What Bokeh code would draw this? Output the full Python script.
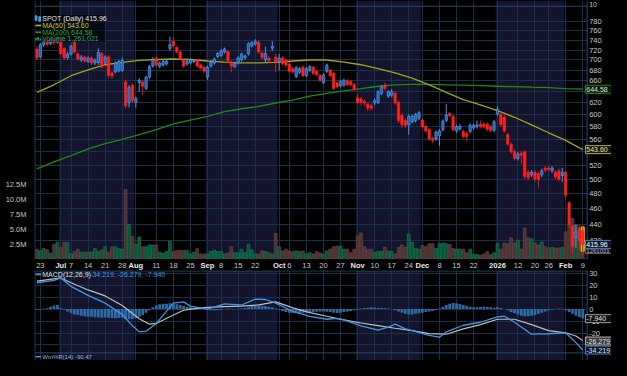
import math
from bokeh.plotting import figure
from bokeh.layouts import column
from bokeh.models import (Range1d, LinearAxis, LinearScale, FixedTicker, PrintfTickFormatter,
                          Label, Grid, ColumnDataSource, BoxAnnotation)
from bokeh.core.properties import value
from bokeh.embed import file_html
from bokeh.resources import INLINE
try:
    from bokeh.models import GlobalInlineStyleSheet
except Exception:
    GlobalInlineStyleSheet = None

# ---------------- data (trading-day index 0 = 2025-06-20 ... 160 = 2026-02-09) -------------
opens = [722,706,731,740,733,742,736,742,723,705, 712,736,712,700,706,697,704,694,695,713,
         694,706,675,677,679,680,658,620,652,621, 657,658,646,667,688,704,688,690,692,723,
         738,725,716,700,692,694,697,699,690,686, 667,688,694,707,709,716,717,696,687,694,
         700,704,712,728,732,736,714,700,704,724, 706,696,704,700,692,683,668,676,686,670,
         680,686,678,670,657,678,680,674,656,651, 652,660,659,653,629,627,623,618,615,620,
         621,637,652,632,634,637,621,599,590,583, 588,590,594,591,580,575,561,560,565,575,
         590,602,597,573,576,572,569,572,578,580, 584,584,584,580,574,601,600,596,567,552,
         541,530,538,540,510,506,510,508,506,516, 516,512,510,512,505,510,468,438,424,436,
         432]
highs = [728,734,742,744,746,745,748,745,726,716, 731,740,716,710,709,707,707,703,723,716,
         709,710,678,697,700,705,662,652,655,631, 665,662,670,690,706,707,697,700,701,748,
         748,729,719,703,700,703,702,702,693,689, 689,699,705,716,721,725,720,699,696,707,
         715,711,736,738,742,739,717,727,707,738, 712,712,707,703,695,686,688,686,689,686,
         690,689,681,673,674,693,683,677,659,662, 664,663,662,656,636,631,627,621,619,628,
         643,652,657,643,645,641,624,602,593,600, 600,603,606,594,583,578,564,574,576,592,
         618,605,600,583,584,575,572,585,585,590, 590,587,587,583,591,614,603,599,570,555,
         544,540,541,543,513,513,513,511,515,519, 519,519,513,515,516,512,470,440,440,440,
         437]
lows = [700,703,726,728,730,730,733,710,700,701, 709,713,698,696,694,694,690,690,690,684,
        690,666,664,674,676,677,610,612,620,612, 640,634,643,664,685,686,684,687,689,718,
        725,713,701,685,689,691,694,685,681,675, 662,685,691,704,706,713,695,676,684,691,
        697,701,709,725,729,713,702,694,695,718, 677,680,690,687,675,674,665,673,667,667,
        677,671,669,658,654,675,667,643,646,648, 649,650,650,641,618,616,615,606,607,616,
        618,634,643,629,630,617,586,578,578,567, 585,587,591,577,570,557,554,557,549,572,
        587,595,572,570,573,561,556,569,575,577, 577,577,573,571,571,598,580,570,549,537,
        527,527,522,500,499,503,497,488,503,510, 511,509,500,497,496,474,436,405,412,410,
        404]
closes = [704,731,738,732,742,735,744,713,704,712, 728,716,702,706,698,704,694,700,715,686,
          706,670,669,694,697,699,615,648,624,628, 661,650,667,687,700,690,694,697,698,731,
          728,716,704,688,697,700,699,688,684,678, 686,696,702,713,718,722,698,688,693,704,
          712,708,733,735,738,716,705,713,698,727, 696,704,693,690,678,677,685,683,670,683,
          687,674,672,661,671,690,670,646,649,659, 661,653,653,644,621,621,620,611,611,624,
          640,649,646,640,640,620,590,583,582,597, 597,600,603,580,573,560,558,571,573,589,
          599,598,575,580,580,564,564,582,582,583, 580,580,576,574,588,609,583,573,552,540,
          530,537,535,504,502,510,500,500,512,513, 514,516,503,500,510,478,440,414,431,420,
          415.96]
volume_m = [1.7,1.4,1.8,1.6,1.0,2.5,2.8,2.0,2.8,2.8, 0.9,1.3,1.7,1.2,1.2,1.2,1.2,1.8,1.3,1.6,
            2.1,1.2,2.1,2.1,1.8,1.7,11.6,5.8,3.8,2.5, 3.7,2.1,2.1,2.4,2.4,2.4,1.2,1.0,1.3,3.0,
            1.3,1.5,1.5,1.5,1.5,0.9,1.2,1.8,0.9,0.9, 0.9,1.3,1.5,1.3,1.3,0.9,1.1,2.1,1.1,1.1,
            1.7,1.1,2.5,1.6,0.9,0.9,1.4,1.3,1.1,0.9, 4.3,2.1,1.4,1.7,1.4,1.3,1.4,1.3,1.4,0.9,
            1.1,0.9,1.3,1.1,0.9,1.4,1.7,2.1,2.2,2.2, 1.7,1.7,1.1,1.7,3.9,4.4,2.1,1.7,1.7,1.1,
            1.3,1.3,2.0,1.4,1.3,0.9,2.0,2.4,2.0,4.2, 2.8,1.8,1.7,2.3,2.1,2.6,2.6,1.8,2.6,2.7,
            2.6,2.5,1.8,1.7,1.7,1.7,1.1,1.7,0.8,0.8, 0.7,0.9,1.3,0.8,1.1,2.6,1.7,2.7,2.6,3.6,
            2.7,3.2,1.7,5.2,3.6,3.4,2.7,2.4,2.9,2.1, 1.9,2.0,1.9,1.9,2.0,4.6,5.7,6.8,5.7,3.5,
            1.261021]
macd_hist = [-0.5,-0.3,0.3,0.8,2.0,3.0,3.4,1.0,-0.5,-2.0, -3.5,-4.5,-5.0,-5.5,-6.0,-6.3,-6.5,-6.8,-7.0,-7.2,
             -7.0,-7.3,-7.5,-7.6,-7.4,-7.2,-8.0,-8.5,-8.2,-7.5, -6.5,-5.0,-3.0,-1.0,1.5,3.0,4.0,4.5,4.5,4.8,
             4.5,4.0,3.5,2.5,1.8,1.5,1.0,0.8,0.5,0.0, -0.5,-1.0,-1.2,-1.0,-0.5,0.0,0.5,0.3,0.0,0.2,
             0.5,1.0,1.5,2.5,3.0,3.0,2.8,2.5,2.0,1.5, 0.5,-0.5,-1.5,-2.5,-3.0,-3.2,-3.3,-3.2,-3.0,-3.0,
             -2.8,-2.5,-2.2,-2.0,-2.0,-2.2,-2.5,-3.0,-3.2,-3.0, -2.5,-2.0,-1.5,-1.0,-0.5,0.5,1.0,1.2,1.5,1.2,
             1.0,1.0,0.8,0.5,0.0,-1.0,-2.0,-3.0,-3.8,-4.5, -4.5,-4.0,-3.5,-3.0,-2.5,-2.0,-1.5,-0.8,0.5,2.0,
             3.5,4.5,5.0,4.8,4.2,3.5,2.5,2.0,1.5,1.5, 1.8,2.0,1.8,1.5,1.2,1.5,1.0,0.0,-1.0,-2.5,
             -3.5,-4.5,-5.5,-6.0,-6.0,-5.5,-5.0,-4.0,-3.0,-2.0, -1.0,-0.5,0.3,0.5,0.3,-1.0,-2.5,-4.0,-5.5,-6.8,
             -7.94]

ma_days = [0,5,10,15,20,25,30,35,40,45,50,55,60,65,70,75,80,85,90,95,100,105,110,115,120,125,130,135,140,145,150,155,160]
ma50 = [638.8,652.7,669.6,680.6,690.7,695.4,699.2,701,702,701,698,696,694.5,694.5,695.4,698,700,700,696,690.7,
        683,675,665,652.7,638.8,626,616.7,606.8,595.5,582.8,570,558,543.6]
ma200 = [514.7,525,534.5,544.7,552.8,559.6,567.2,575,584.4,590.7,597,605,610,614,620,625,632,637,641.5,645.7,
         650,652.7,653.5,653.5,652.7,652,651,650,649.2,648.3,647.5,645.7,644.58]

macd_days = [0,5,7,10,15,20,25,28,30,32,35,40,43,45,50,55,60,64,67,70,75,80,85,88,90,95,100,103,105,108,
             110,115,118,120,125,130,135,137,140,145,150,155,158,160]
macd_line = [22,24,26,19,11.5,5,-4.5,-14,-19,-18.5,-12,5,6,2.5,0,4.4,3.4,8.4,8,5,-2,-6,-8.5,-7.8,-9,-14,-17.5,-15,-12.6,-16.5,
             -18,-22,-23.5,-19,-13.5,-11,-6.5,-6,-11,-21,-20.6,-19.8,-28,-34.219]
signal_days = [0,7,10,15,20,25,30,33,35,40,43,45,50,55,60,65,70,75,80,85,88,90,95,100,105,110,115,120,125,130,
               135,140,145,150,155,158,160]
signal_line = [23.4,26,22,16,11,3,-8,-12.6,-12,-5,-1,0,1.5,2.0,2.4,3.5,6,1,-3,-6,-8,-9,-11.6,-13.8,-16,-18,-20.5,-21,-16.5,-13,
               -8.5,-8.5,-13,-18,-19.8,-22.5,-26.279]

week_ticks = [1,10,15,20,25,35,40,45,54,59,64,74,79,84,89,99,104,109,118,123,128,141,146,150,160]
week_labels = ["23","7","14","21","28","11","18","25","8","15","22","6","13","20","27","10","17","24",
               "8","15","22","12","20","26","9"]
month_ticks = [7,29,50,71,94,113,135,155]
month_labels = ["Jul","Aug","Sep","Oct","Nov","Dec","2026","Feb"]
shaded_months = [(7,29),(50,71),(94,113),(135,155)]
price_ticks = [420,440,460,480,500,520,540,560,580,600,620,640,660,680,700,720,740,760,780]
price_grid = [400] + price_ticks
vol_ticks = [2.5,5,7.5,10,12.5]
macd_ticks = [-30,-20,-10,0,10,20,30]

# ---------------- style / layout ----------------
FONT = "Liberation Sans"
BG = "#000000"
NAVY = "#14152c"
GRID = "#18304e"
FRAME = "#2a4a72"
LBL = "#c8c8c8"
W = 611
LB = 34
X_LEFT, X_RIGHT, X_END = -0.71, 161.29, 168.43     # data area ends at X_RIGHT, value column beyond
xr = Range1d(X_LEFT, X_END)
all_ticks = sorted(week_ticks + month_ticks)
N = len(closes)
idx = list(range(N))


def base(height, y_range, **kw):
    p = figure(width=W, height=height, x_range=xr, y_range=y_range, output_backend="svg",
               toolbar_location=None, x_axis_location=None, min_border=0, min_border_left=LB,
               min_border_right=0, min_border_top=0, min_border_bottom=0,
               background_fill_color=BG, border_fill_color=BG, outline_line_color=None, **kw)
    for g in p.grid:
        g.grid_line_color = None
    return p


def shade(p):
    for a, b in shaded_months:
        p.add_layout(BoxAnnotation(left=a - 0.5, right=b - 0.5, fill_color=NAVY, fill_alpha=1.0,
                                   line_color=None, level="image"))


def vgrid(p):
    p.add_layout(Grid(dimension=0, ticker=FixedTicker(ticks=all_ticks), grid_line_color=GRID))


def txt(p, xs, ys, texts, color, size="7.5px", align="left", bold=False, **kw):
    p.text(x=xs, y=ys, text=texts, text_font=value(FONT), text_font_size=value(size),
           text_color=color, text_align=align, text_baseline="middle",
           text_font_style="bold" if bold else "normal", **kw)


def vbox(p, yv, text, border, fill, color, size="7px", h=8):
    p.rect(x=[(X_RIGHT - 0.5 + X_END) / 2], y=[yv], width=X_END - X_RIGHT + 0.5, height=h,
           height_units="screen", fill_color=fill, line_color=border, line_width=1)
    txt(p, [X_RIGHT - 0.25], [yv], [text], color, size=size)


# ---------------- price + volume panel ----------------
P_TOP, P_BOT = 828.0, 398.6
pA = base(259, Range1d(P_BOT, P_TOP), y_axis_type="log", y_axis_location=None)
pA.extra_y_ranges = {"vol": Range1d(-0.02, 43.0)}
pA.extra_y_scales = {"vol": LinearScale()}
shade(pA)
vgrid(pA)
pA.add_layout(Grid(dimension=1, ticker=FixedTicker(ticks=price_grid), grid_line_color=GRID))

va = LinearAxis(y_range_name="vol", ticker=FixedTicker(ticks=vol_ticks),
                formatter=PrintfTickFormatter(format="%.1fM"))
va.axis_line_color = None
va.major_tick_line_color = None
va.minor_tick_line_color = None
va.major_label_text_color = LBL
va.major_label_text_font_size = "7.5px"
va.major_label_text_font = FONT
va.major_label_standoff = 2
pA.add_layout(va, "left")

up = [c >= o for o, c in zip(opens, closes)]
src = ColumnDataSource(dict(
    i=idx, h=highs, l=lows, v=volume_m,
    top=[max(o, c) for o, c in zip(opens, closes)],
    bot=[min(o, c) for o, c in zip(opens, closes)],
    bfill=["#2462b0" if u else "#ff2020" for u in up],
    bline=["#4d96ea" if u else "#ff2020" for u in up],
    wick=["#4d96ea" if u else "#e01818" for u in up],
    vfill=["#0b5238" if u else "#4d3232" for u in up],
    vline=["#14875a" if u else "#6f4a4a" for u in up],
))

pA.vbar(x="i", top="v", bottom=0, width=0.82, y_range_name="vol", fill_color="vfill",
        line_color="vline", line_width=0.6, source=src)

# highlight of the latest bar
pA.quad(left=[159.55], right=[160.45], bottom=[408], top=[437], fill_color="#c9b000", line_color="#e6cc00")

pA.line(ma_days, ma200, line_color="#1a8c1a", line_width=1.3)
pA.line(ma_days, ma50, line_color="#a3a31c", line_width=1.3)

pA.segment(x0="i", y0="h", x1="i", y1="l", line_color="wick", line_width=1, source=src)
pA.vbar(x="i", top="top", bottom="bot", width=0.68, fill_color="bfill", line_color="bline",
        line_width=0.7, source=src)

# value column on the right, panel frame
pA.quad(left=[X_RIGHT], right=[X_END + 1], bottom=[P_BOT * 0.9], top=[P_TOP * 1.1], fill_color=BG, line_color=None)
y_frame_top = 814.6
pA.segment(x0=[X_LEFT + 0.12, X_RIGHT, X_LEFT], y0=[P_BOT, P_BOT, y_frame_top],
           x1=[X_LEFT + 0.12, X_RIGHT, X_RIGHT], y1=[P_TOP, P_TOP, y_frame_top],
           line_color=FRAME, line_width=1)
txt(pA, [X_RIGHT + 0.6] * len(price_ticks), price_ticks, [str(t) for t in price_ticks], LBL)
txt(pA, [X_RIGHT + 0.6], [818.5], ["10"], LBL, size="7px")

# legend
pA.add_layout(BoxAnnotation(left=X_LEFT, right=19.9, top=795, bottom=737, fill_color="#000000",
                            fill_alpha=0.6, line_color=None, level="annotation"))
pA.vbar(x=[-0.25, 0.8], top=[793, 791], bottom=[783, 781], width=0.5, fill_color="#3d85d8",
        line_color="#5aa0f0", level="overlay")
pA.segment(x0=[-0.45, -0.45], y0=[771.6, 757.1], x1=[1.25, 1.25], y1=[771.6, 757.1],
           line_color=["#b0b020", "#1f9a1f"], line_width=1.6, level="overlay")
pA.vbar(x=[-0.35, 0.35, 1.05], top=[745, 747, 744], bottom=[739.5, 739.5, 739.5], width=0.5,
        fill_color="#16a060", line_color=None, level="overlay")
legend_rows = [("SPOT (Daily) 415.96", 787.4, "#e6e6e6"),
               ("MA(50) 543.60", 771.6, "#c8c828"),
               ("MA(200) 644.58", 757.1, "#24a824"),
               ("Volume 1,261,021", 742.9, "#1fae68")]
for t, yv, col in legend_rows:
    pA.add_layout(Label(x=1.57, y=yv, text=t, text_font=FONT, text_font_size="7px", text_color=col,
                        text_baseline="middle", text_align="left", level="overlay"))

vbox(pA, 644.58, "644.58", "#1c8c1c", "#0a180a", "#e0e0e0")
vbox(pA, 543.60, "543.60", "#b0b020", "#181800", "#e0e0e0")
vbox(pA, 408.8, "1261021", "#606060", "#151515", "#b0b0b0", size="6px", h=6)
vbox(pA, 415.96, "415.96", "#3d80d0", "#0a1628", "#ffffff")

# ---------------- date strip ----------------
pD = base(11, Range1d(0, 1), y_axis_location=None)
txt(pD, week_ticks, [0.52] * len(week_ticks), week_labels, LBL, align="center")
txt(pD, month_ticks, [0.52] * len(month_ticks), month_labels, "#e8e8e8", align="center", bold=True)

# ---------------- MACD panel (+ top of the Williams %R panel, cut off at the bottom) ----------------
M_TOP, M_BOT, WR_SPLIT = 32.24, -42.96, -36.6
pB = base(90, Range1d(M_BOT, M_TOP), y_axis_location=None)
shade(pB)
vgrid(pB)
pB.add_layout(Grid(dimension=1, ticker=FixedTicker(ticks=macd_ticks), grid_line_color=GRID))

pB.vbar(x=idx, top=macd_hist, bottom=0, width=0.82, fill_color="#2f70ad", line_color=None, fill_alpha=0.95)
pB.line(signal_days, signal_line, line_color="#bdbdbd", line_width=1.2)
pB.line(macd_days, macd_line, line_color="#3d97e6", line_width=1.3)

pB.quad(left=[X_RIGHT], right=[X_END + 1], bottom=[-50], top=[40], fill_color=BG, line_color=None)
pB.segment(x0=[X_LEFT + 0.12, X_RIGHT, X_LEFT, X_LEFT], y0=[-50, -50, 31.85, WR_SPLIT],
           x1=[X_LEFT + 0.12, X_RIGHT, X_RIGHT, X_RIGHT], y1=[40, 40, 31.85, WR_SPLIT],
           line_color=FRAME, line_width=1)
txt(pB, [X_RIGHT + 0.6] * len(macd_ticks), macd_ticks, [str(t) for t in macd_ticks], LBL)

pB.segment(x0=[-0.45], y0=[29.0], x1=[1.2], y1=[29.0], line_color="#3d97e6", line_width=1.6)
txt(pB, [1.57], [29.0], ["MACD(12,26,9)"], "#e0e0e0", size="7px")
txt(pB, [15.6], [29.0], ["-34.219, -26.279, -7.940"], "#3d97e6", size="7px")
vbox(pB, -8.0, "-7.940", "#a0a0a0", "#101010", "#e0e0e0")
vbox(pB, -26.7, "-26.279", "#b0b0b0", "#3a3a3a", "#e0e0e0")
vbox(pB, -34.2, "-34.219", "#3d80d0", "#0a1628", "#e0e0e0")

# Williams %R legend
pB.segment(x0=[-0.45], y0=[-39.8], x1=[1.2], y1=[-39.8], line_color="#3d97e6", line_width=1.6)
txt(pB, [1.57], [-39.8], ["Wm%R(14) -90.47"], "#9fb8d8", size="6px")

kw = {}
if GlobalInlineStyleSheet is not None:
    kw["stylesheets"] = [GlobalInlineStyleSheet(css="html, body { background-color: #000000; }")]
layout = column(pA, pD, pB, spacing=0, **kw)

open("out.html", "w").write(file_html(layout, INLINE))
